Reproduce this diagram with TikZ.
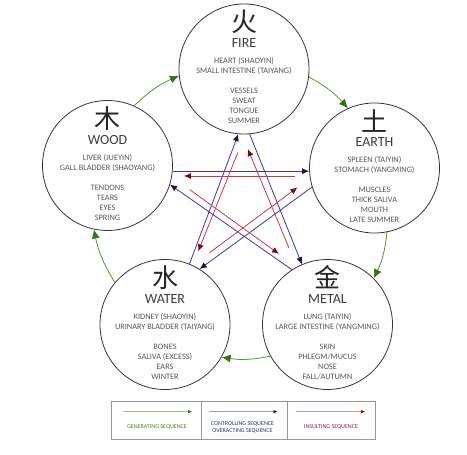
\documentclass[tikz,border=0pt]{standalone}
\usepackage{fontspec}
\setmainfont{Carlito}
\newfontfamily\cjkfont{Noto Sans CJK SC}
\usetikzlibrary{arrows.meta,calc}
\definecolor{txtgray}{RGB}{85,85,85}
\definecolor{titlegray}{RGB}{60,60,60}
\definecolor{circgray}{RGB}{50,50,50}
\definecolor{genline}{RGB}{95,145,55}
\definecolor{genhead}{RGB}{55,115,15}
\definecolor{ctrlline}{RGB}{55,55,170}
\definecolor{ctrlhead}{RGB}{15,15,105}
\definecolor{insline}{RGB}{200,60,60}
\definecolor{inshead}{RGB}{120,10,10}
\definecolor{leggreen}{RGB}{160,190,135}
\definecolor{legblue}{RGB}{150,150,210}
\definecolor{legred}{RGB}{220,150,150}
\definecolor{legtxtgreen}{RGB}{80,125,45}
\definecolor{legtxtblue}{RGB}{45,45,140}
\definecolor{legtxtred}{RGB}{140,40,55}
\definecolor{boxgray}{RGB}{150,150,150}
\tikzset{
  elemcircle/.style={circle,draw=circgray,line width=0.8pt,minimum size=130pt,inner sep=0pt},
  cjkchar/.style={inner sep=0pt,font=\cjkfont\fontsize{26}{26}\selectfont,text=black!85},
  titletext/.style={inner sep=0pt,anchor=base,font=\fontsize{14}{14}\selectfont,text=titlegray},
  smalltext/.style={inner sep=0pt,anchor=base,font=\fontsize{8.3}{10}\selectfont,text=txtgray},
  genarrow/.style={draw=genline,line width=0.8pt,-{Latex[length=9pt,width=8pt,color=genhead]}},
  ctrlarrow/.style={draw=ctrlline,line width=0.8pt,-{Latex[length=7pt,width=6pt,color=ctrlhead]}},
  insarrow/.style={draw=insline,line width=0.8pt,-{Latex[length=7pt,width=6pt,color=inshead]}},
  legcell/.style={draw=boxgray,line width=0.7pt,minimum height=38pt,inner sep=0pt},
  legtext/.style={inner sep=0pt,align=center,font=\fontsize{6}{6.7}\selectfont},
}
\newcommand\elemnode[5]{%
  \node[elemcircle] (#1) at (#2,#3) {};
  \node[cjkchar] (#1-char) at ($(#1)+(0,-47)$) {#4};
  \node[titletext] (#1-title) at ($(#1)+(0,-21.5)$) {#5};
}
\newcommand\elemlines[7]{%
  \node[smalltext] (#1-a) at ($(#1)+(0,-5.3)$) {#2};
  \node[smalltext] (#1-b) at ($(#1)+(0,4.7)$) {#3};
  \node[smalltext] (#1-c) at ($(#1)+(0,24.7)$) {#4};
  \node[smalltext] (#1-d) at ($(#1)+(0,34.7)$) {#5};
  \node[smalltext] (#1-e) at ($(#1)+(0,44.7)$) {#6};
  \node[smalltext] (#1-f) at ($(#1)+(0,54.7)$) {#7};
}
\begin{document}
\begin{tikzpicture}[x=1pt,y=-1pt]
\useasboundingbox[fill=white] (0,0) rectangle (467,455);

\elemnode{fire}{244}{69}{火}{FIRE}
\elemlines{fire}{HEART (SHAOYIN)}{SMALL INTESTINE (TAIYANG)}{VESSELS}{SWEAT}{TONGUE}{SUMMER}
\elemnode{earth}{374.5}{168}{土}{EARTH}
\elemlines{earth}{SPLEEN (TAIYIN)}{STOMACH (YANGMING)}{MUSCLES}{THICK SALIVA}{MOUTH}{LATE SUMMER}
\elemnode{metal}{327.5}{324.5}{金}{METAL}
\elemlines{metal}{LUNG (TAIYIN)}{LARGE INTESTINE (YANGMING)}{SKIN}{PHLEGM/MUCUS}{NOSE}{FALL/AUTUMN}
\elemnode{water}{165}{324.5}{水}{WATER}
\elemlines{water}{KIDNEY (SHAOYIN)}{URINARY BLADDER (TAIYANG)}{BONES}{SALIVA (EXCESS)}{EARS}{WINTER}
\elemnode{wood}{107.5}{165.5}{木}{WOOD}
\elemlines{wood}{LIVER (JUEYIN)}{GALL BLADDER (SHAOYANG)}{TENDONS}{TEARS}{EYES}{SPRING}

% generating sequence
\draw[genarrow] (wood.66) to[bend left=10] (fire.186);
\draw[genarrow] (fire.-7) to[bend left=10] (earth.114);
\draw[genarrow] (earth.-79) to[bend left=10] (metal.45);
\draw[genarrow] (metal.-151) to[bend left=10] (water.-30);
\draw[genarrow] (water.140) to[bend left=10] (wood.258);

% controlling sequence
\draw[ctrlarrow] (wood.-5) -- (wood.-5 -| earth.west);
\draw[ctrlarrow] (earth.197) -- (water.58.4);
\draw[ctrlarrow] (water.68.8) -- (fire.265);
\draw[ctrlarrow] (fire.275.2) -- (metal.113);
\draw[ctrlarrow] (metal.123) -- (wood.-17.5);

% insulting sequence
\draw[insarrow,shorten <=14.5pt,shorten >=11pt] (earth.187) -- (earth.187 -| wood.east);
\draw[insarrow,shorten <=21pt,shorten >=15.5pt] (water.65.3) -- (earth.189.7);
\draw[insarrow,shorten <=19.5pt,shorten >=15pt] (fire.271) -- (water.65.1);
\draw[insarrow,shorten <=20.5pt,shorten >=16pt] (metal.118.9) -- (fire.268.7);
\draw[insarrow,shorten <=22pt,shorten >=22pt] (wood.-10.8) -- (metal.118.9);

% legend
\node[legcell,minimum width=89.6pt] (cellgen) at (156.5,420) {};
\node[legcell,minimum width=85.7pt] (cellctrl) at (244.15,420) {};
\node[legcell,minimum width=88pt] (cellins) at (331,420) {};
\coordinate (g1) at (123,411.7);
\coordinate (g2) at (192,411.7);
\coordinate (b1) at (209,411.7);
\coordinate (b2) at (277.5,411.7);
\coordinate (r1) at (296,411.7);
\coordinate (r2) at (365,411.7);
\draw[draw=leggreen,line width=0.8pt,-{Latex[length=4pt,width=4pt,color=genhead]}] (g1) -- (g2);
\draw[draw=legblue,line width=0.8pt,-{Latex[length=4pt,width=4pt,color=ctrlhead]}] (b1) -- (b2);
\draw[draw=legred,line width=0.8pt,-{Latex[length=4pt,width=4pt,color=inshead]}] (r1) -- (r2);
\node[legtext,text=legtxtgreen] (tgen) at (157,426.7) {GENERATING SEQUENCE};
\node[legtext,text=legtxtblue] (tctrl) at (242.5,427.3) {CONTROLLING SEQUENCE\\OVERACTING SEQUENCE};
\node[legtext,text=legtxtred] (tins) at (331,426.7) {INSULTING SEQUENCE};
\end{tikzpicture}
\end{document}
